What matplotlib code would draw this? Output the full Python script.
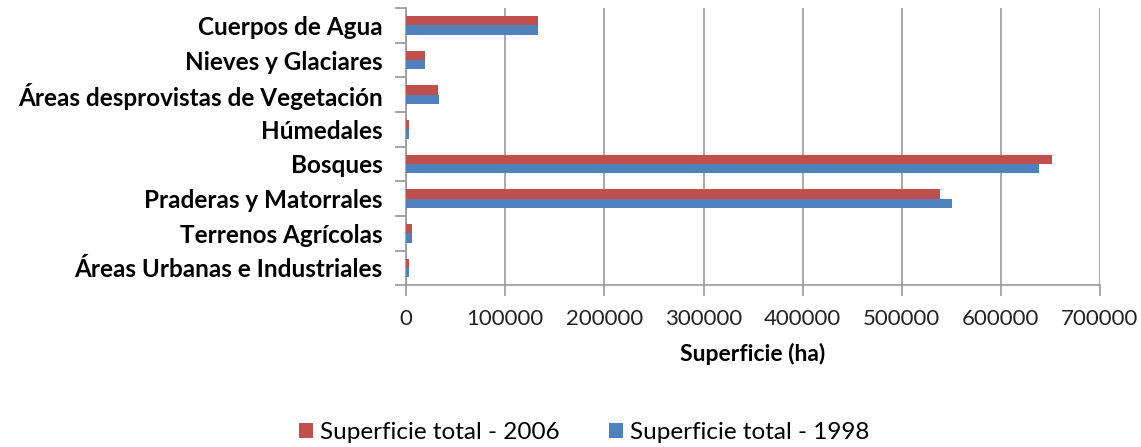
import numpy as np
import matplotlib.pyplot as plt

# data (bottom to top)
categorias = ['Áreas Urbanas e Industriales', 'Terrenos Agrícolas', 'Praderas y Matorrales',
              'Bosques', 'Húmedales', 'Áreas desprovistas de Vegetación',
              'Nieves y Glaciares', 'Cuerpos de Agua']
sup_2006 = [3000, 5700, 538500, 651700, 3000, 31700, 18600, 132900]
sup_1998 = [3000, 5700, 550300, 638500, 3000, 33100, 18600, 132900]
xticks = [0, 100000, 200000, 300000, 400000, 500000, 600000, 700000]

plt.rcParams['font.family'] = ['Lato', 'DejaVu Sans']

fig = plt.figure(figsize=(11.41, 4.47), dpi=100)
ax = fig.add_axes([0.356, 0.362, 0.608, 0.62])

y = np.arange(len(categorias))
h = 0.27
ax.barh(y + h/2, sup_2006, height=h, color='#C0504D', label='Superficie total - 2006', zorder=3)
ax.barh(y - h/2, sup_1998, height=h, color='#4F81BD', label='Superficie total - 1998', zorder=3)

ax.set_xlim(0, 700000)
ax.set_ylim(-0.5, len(categorias) - 0.5)
ax.set_xticks(xticks)
ax.set_xticklabels([str(t) for t in xticks], fontsize=16, color='#222222')
ax.set_yticks(y)
ax.set_yticklabels(categorias, fontsize=17.5, fontweight='bold')
ax.tick_params(axis='y', length=0, pad=17)
ax.set_yticks(np.arange(-0.5, len(categorias)), minor=True)
ax.tick_params(axis='y', which='minor', length=8, color='#999999', width=1.2)
ax.tick_params(axis='x', length=8, color='#999999', width=1.2, pad=9)

ax.grid(axis='x', color='#999999', linewidth=1.2, zorder=0)
for s in ['top', 'right']:
    ax.spines[s].set_visible(False)
for s in ['left', 'bottom']:
    ax.spines[s].set_color('#999999')
    ax.spines[s].set_linewidth(1.2)

ax.set_xlabel('Superficie (ha)', fontsize=16.5, fontweight='bold', labelpad=10)

fig.legend(loc='lower center', bbox_to_anchor=(0.512, -0.04), ncol=2, frameon=False,
           fontsize=17.5, handlelength=0.6, handleheight=0.6, handletextpad=0.3,
           columnspacing=2.0)

fig.savefig('out.png', dpi=100)
